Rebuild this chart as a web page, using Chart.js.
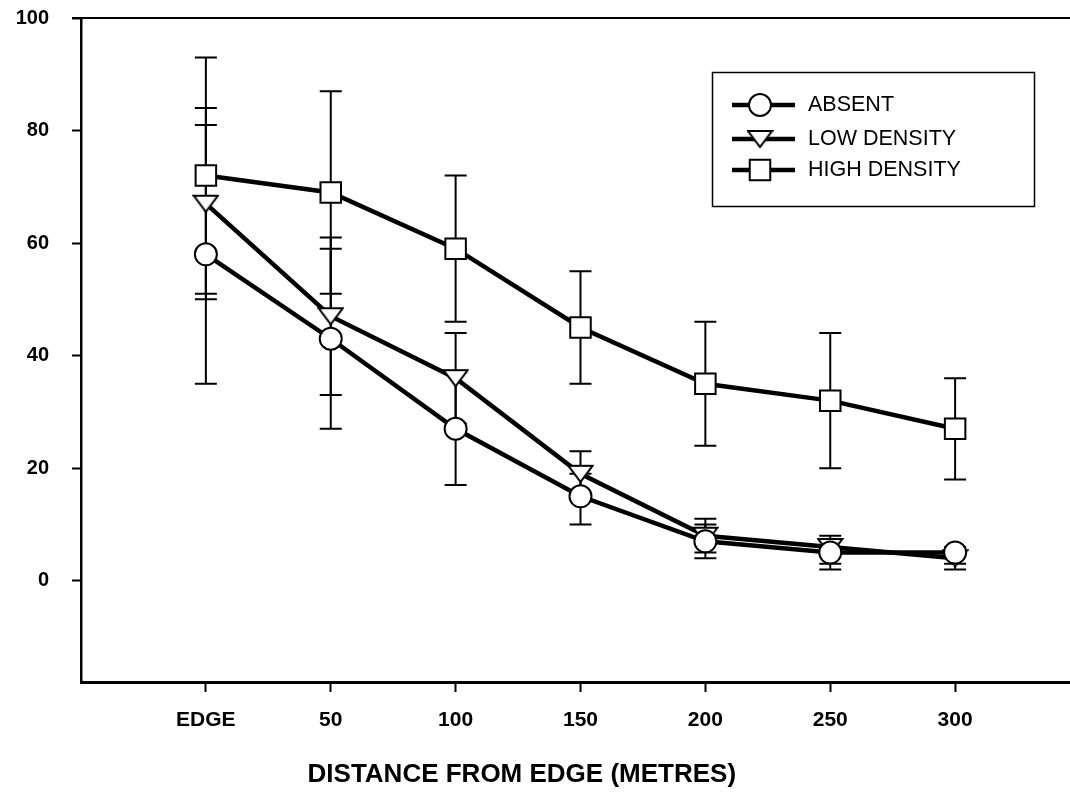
<!DOCTYPE html>
<html>
<head>
<meta charset="utf-8">
<script src="https://cdn.jsdelivr.net/npm/chart.js@4"></script>
<style>
  html, body { margin: 0; padding: 0; background: #fff; }
</style>
</head>
<body>
<canvas id="chart" width="1070" height="794"></canvas>
<script>
var distLabels = ['EDGE', '50', '100', '150', '200', '250', '300'];
var yTicks = [0, 20, 40, 60, 80, 100];

var absent = [58, 43, 27, 15, 7, 5, 5];
var absentHi = [81, 59, 37, 19, 10, 7, 6];
var absentLo = [35, 27, 17, 10, 4, 3, 3];

var lowDensity = [67, 47, 36, 19, 8, 6, 4];
var lowHi = [84, 61, 44, 23, 11, 8, 5];
var lowLo = [50, 33, 28, 15, 5, 2, 2];

var highDensity = [72, 69, 59, 45, 35, 32, 27];
var highHi = [93, 87, 72, 55, 46, 44, 36];
var highLo = [51, 51, 46, 35, 24, 20, 18];

var seriesNames = ['ABSENT', 'LOW DENSITY', 'HIGH DENSITY'];
var axisTitle = 'DISTANCE FROM EDGE (METRES)';

var FONT = '"Liberation Sans", Arial, sans-serif';

// downward triangle marker, flatter than chart.js' own one
function makeTriangle() {
    var cv = document.createElement('canvas');
    cv.width = 27;
    cv.height = 20;
    var t = cv.getContext('2d');
    t.fillStyle = '#fff';
    t.strokeStyle = '#000';
    t.lineWidth = 2;
    t.beginPath();
    t.moveTo(1.5, 2);
    t.lineTo(25.5, 2);
    t.lineTo(13.5, 18);
    t.closePath();
    t.fill();
    t.stroke();
    return cv;
}
var triangle = makeTriangle();

function toPoints(values) {
    return values.map(function (v, i) { return { x: i, y: v }; });
}

function makeSeries(label, values, style, radius) {
    return {
        label: label,
        data: toPoints(values),
        borderColor: '#000',
        borderWidth: 4.5,
        pointStyle: style,
        pointRadius: radius,
        pointBackgroundColor: '#fff',
        pointBorderColor: '#000',
        pointBorderWidth: 2,
        tension: 0,
        fill: false
    };
}

var errHi = [absentHi, lowHi, highHi];
var errLo = [absentLo, lowLo, highLo];

var errorBars = {
    id: 'errorBars',
    beforeDatasetsDraw: function (chart) {
        var c = chart.ctx;
        var xs = chart.scales.x, ys = chart.scales.y;
        c.save();
        c.strokeStyle = '#000';
        c.lineWidth = 2;
        for (var s = 0; s < errHi.length; s++) {
            for (var i = 0; i < errHi[s].length; i++) {
                var x = xs.getPixelForValue(i);
                var top = ys.getPixelForValue(errHi[s][i]);
                var bot = ys.getPixelForValue(errLo[s][i]);
                c.beginPath();
                c.moveTo(x, top); c.lineTo(x, bot);
                c.moveTo(x - 11, top); c.lineTo(x + 11, top);
                c.moveTo(x - 11, bot); c.lineTo(x + 11, bot);
                c.stroke();
            }
        }
        c.restore();
    }
};

var frameAndLegend = {
    id: 'frameAndLegend',
    afterDraw: function (chart) {
        var c = chart.ctx;
        var area = chart.chartArea;
        c.save();

        // top frame line, starting at the tick end
        c.strokeStyle = '#000';
        c.lineWidth = 2;
        c.beginPath();
        c.moveTo(area.left - 9, area.top);
        c.lineTo(area.right, area.top);
        c.stroke();

        // legend box
        c.lineWidth = 1.5;
        c.strokeRect(712.5, 72.5, 322, 134);
        var rows = [105, 139, 170];
        chart.data.datasets.forEach(function (ds, i) {
            var y = rows[i];
            c.strokeStyle = '#000';
            c.lineWidth = 4.5;
            c.beginPath();
            c.moveTo(732, y);
            c.lineTo(795, y);
            c.stroke();
            c.fillStyle = '#fff';
            c.lineWidth = 2;
            Chart.helpers.drawPoint(c, {
                pointStyle: ds.pointStyle,
                radius: ds.pointRadius,
                borderWidth: 2,
                rotation: 0
            }, 760, y);
            c.fillStyle = '#000';
            c.font = '21.5px ' + FONT;
            c.textAlign = 'left';
            c.textBaseline = 'middle';
            c.fillText(ds.label, 808, y);
        });

        // x axis title
        c.fillStyle = '#000';
        c.font = 'bold 26px ' + FONT;
        c.textAlign = 'center';
        c.textBaseline = 'middle';
        c.fillText(axisTitle, chart.scales.x.getPixelForValue(2.53), 775);
        c.restore();
    }
};

var ctx = document.getElementById('chart').getContext('2d');

var chart = new Chart(ctx, {
    type: 'line',
    data: {
        datasets: [
            makeSeries(seriesNames[0], absent, 'circle', 11),
            makeSeries(seriesNames[1], lowDensity, triangle, 12),
            makeSeries(seriesNames[2], highDensity, 'rect', 14.5)
        ]
    },
    options: {
        responsive: false,
        animation: false,
        devicePixelRatio: 1,
        layout: {
            autoPadding: false,
            padding: { top: 18, right: 0, left: 0, bottom: 0 }
        },
        plugins: {
            legend: { display: false },
            tooltip: { enabled: false }
        },
        scales: {
            x: {
                type: 'linear',
                min: -1,
                max: 6.92,
                afterBuildTicks: function (scale) {
                    scale.ticks = distLabels.map(function (_, i) { return { value: i }; });
                },
                afterFit: function (scale) {
                    scale.height = 112;
                    scale.paddingLeft = 0;
                    scale.paddingRight = 0;
                },
                ticks: {
                    callback: function (v) { return distLabels[v]; },
                    color: '#000',
                    font: { family: FONT, size: 21, weight: 'bold' },
                    padding: 16,
                    maxRotation: 0
                },
                grid: {
                    drawOnChartArea: false,
                    tickLength: 10,
                    tickWidth: 2,
                    tickColor: '#000'
                },
                border: { color: '#000', width: 3 }
            },
            y: {
                min: -18,
                max: 100,
                afterBuildTicks: function (scale) {
                    scale.ticks = yTicks.map(function (v) { return { value: v }; });
                },
                afterFit: function (scale) {
                    scale.width = 81;
                    scale.paddingTop = 0;
                    scale.paddingBottom = 0;
                },
                ticks: {
                    color: '#000',
                    font: { family: FONT, size: 20, weight: 'bold' },
                    padding: 23
                },
                grid: {
                    drawOnChartArea: false,
                    tickLength: 9,
                    tickWidth: 2,
                    tickColor: '#000'
                },
                border: { color: '#000', width: 2.5 }
            }
        }
    },
    plugins: [errorBars, frameAndLegend]
});
</script>
</body>
</html>
